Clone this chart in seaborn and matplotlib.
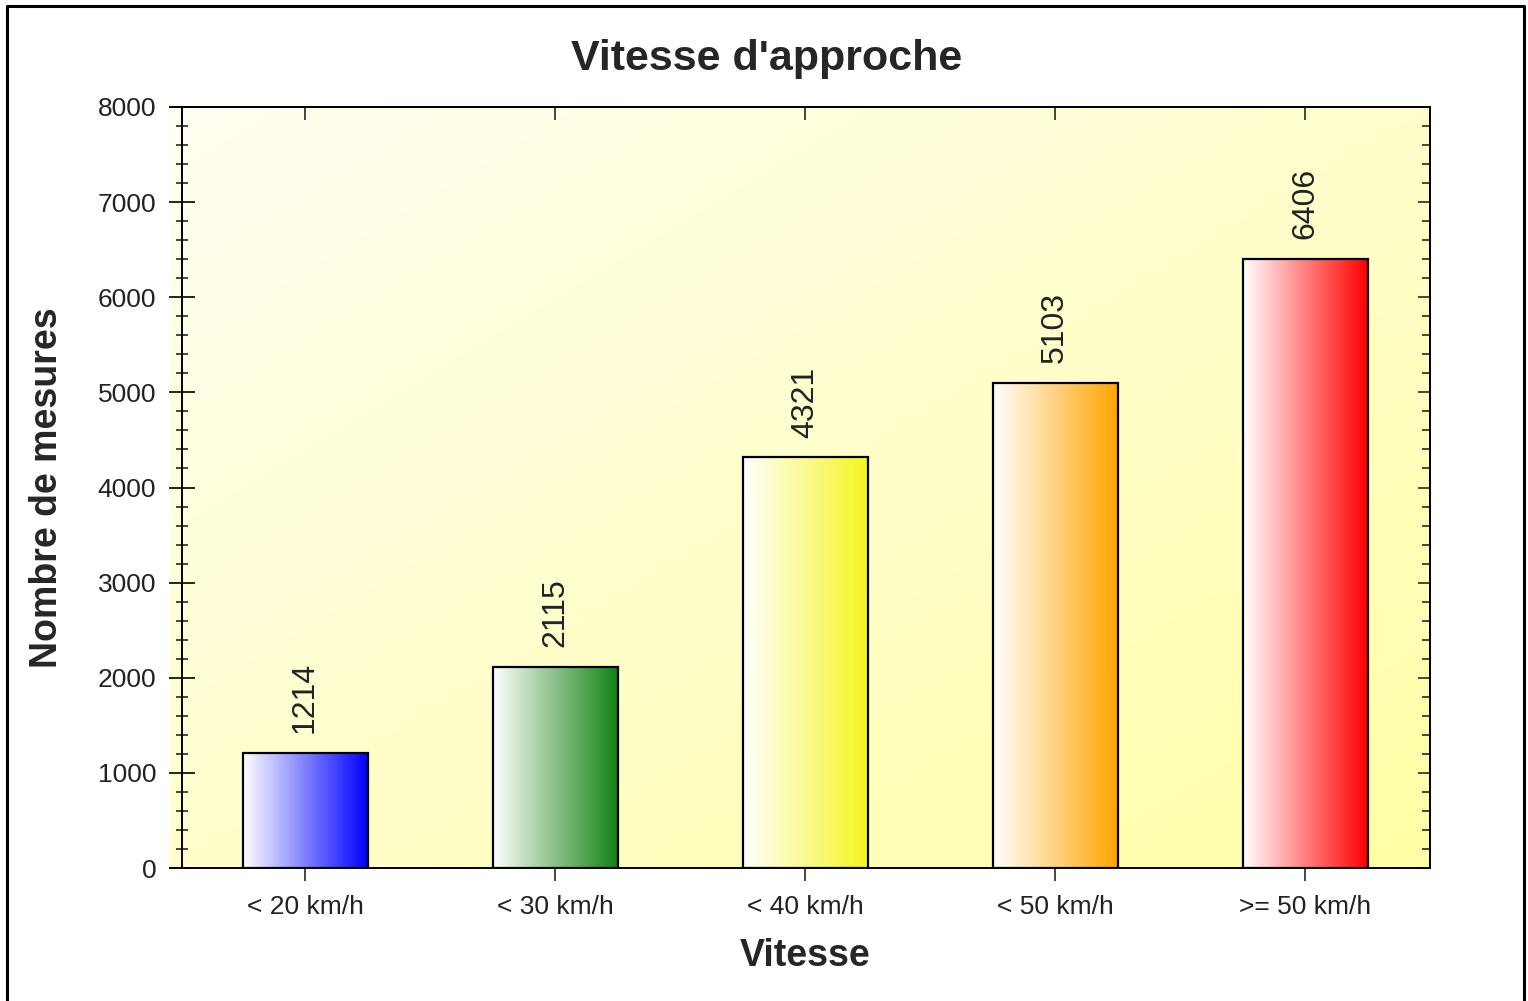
import numpy as np
import matplotlib
matplotlib.use("Agg")
import matplotlib.pyplot as plt
from matplotlib.colors import LinearSegmentedColormap
from matplotlib.ticker import MultipleLocator
from matplotlib.lines import Line2D
import seaborn as sns

# Data
categories = ["< 20 km/h", "< 30 km/h", "< 40 km/h", "< 50 km/h", ">= 50 km/h"]
values = [1214, 2115, 4321, 5103, 6406]
bar_colors = ["#0000FF", "#148214", "#F5F520", "#FFA500", "#FF0000"]

sns.set_style("white")
plt.rcParams['font.family'] = ['Liberation Sans', 'DejaVu Sans']

W, H = 1528, 1001
fig = plt.figure(figsize=(W / 100, H / 100), dpi=100)
ax = fig.add_axes([170 / W, 1 - 868 / H, 1260 / W, 761 / H])

# bars (solid first, gradient drawn over them afterwards)
sns.barplot(x=categories, y=values, width=0.5, color="white", ax=ax, zorder=2)

for patch, col in zip(ax.patches, bar_colors):
    x0, y0 = patch.get_x(), patch.get_y()
    w, h = patch.get_width(), patch.get_height()
    cmap = LinearSegmentedColormap.from_list("g", ["#FFFFFF", col])
    grad = np.linspace(0, 1, 256).reshape(1, -1)
    ax.imshow(grad, cmap=cmap, extent=[x0, x0 + w, y0, y0 + h],
              aspect="auto", zorder=2, interpolation="bilinear")
    patch.set_facecolor("none")
    patch.set_edgecolor("black")
    patch.set_linewidth(1.6)
    patch.set_zorder(3)

# background gradient (white top-left -> yellow bottom-right)
ny, nx = 200, 300
jj, ii = np.meshgrid(np.linspace(0, 1, nx), np.linspace(0, 1, ny))
t = (jj + ii) / 2
c0 = np.array([1.0, 0.998, 0.95])
c1 = np.array([1.0, 1.0, 0.65])
bg = c0 * (1 - t[..., None]) + c1 * t[..., None]
ax.imshow(bg, extent=[0, 1, 0, 1], transform=ax.transAxes, aspect="auto",
          zorder=0, interpolation="bilinear")

# value labels
for i, v in enumerate(values):
    ax.annotate(str(v), xy=(i, v), xytext=(0, 14), textcoords="offset points",
                rotation=90, ha="center", va="bottom", fontsize=23, color="#222222")

ax.set_xlim(-0.54, 4.5)
ax.set_ylim(0, 8000)
ax.yaxis.set_major_locator(MultipleLocator(1000))
ax.yaxis.set_minor_locator(MultipleLocator(200))
ax.set_xticks(range(len(categories)))
ax.set_xticklabels(categories)

for s in ax.spines.values():
    s.set_visible(True)
    s.set_color("black")
    s.set_linewidth(1.4)
ax.spines["left"].set_position(("axes", 12 / 1260))

ax.tick_params(axis="y", which="major", direction="inout", length=19, width=1.2,
               pad=9, labelsize=19, colors="black", left=True, right=False)
ax.tick_params(axis="y", which="minor", direction="inout", length=8, width=1.2,
               left=True, right=False)
ax.tick_params(axis="x", which="major", direction="inout", length=19, width=1.2,
               pad=10, labelsize=19, bottom=True, top=False)
for lab in ax.get_yticklabels() + ax.get_xticklabels():
    lab.set_color("#222222")

# right and top tick marks pointing inwards
sec_y = ax.secondary_yaxis("right")
sec_y.yaxis.set_major_locator(MultipleLocator(1000))
sec_y.yaxis.set_minor_locator(MultipleLocator(200))
sec_y.tick_params(which="major", direction="in", length=9, width=1.2, labelright=False)
sec_y.tick_params(which="minor", direction="in", length=6, width=1.2)
sec_y.spines["right"].set_linewidth(1.4)

sec_x = ax.secondary_xaxis("top")
sec_x.set_xticks(range(len(categories)))
sec_x.tick_params(direction="in", length=9, width=1.2, labeltop=False)
sec_x.spines["top"].set_linewidth(1.4)

ax.set_ylabel("Nombre de mesures", fontsize=27, fontweight="bold")
ax.yaxis.set_label_coords(-0.083, 0.5)
ax.set_xlabel("Vitesse", fontsize=27, fontweight="bold")
ax.xaxis.set_label_coords(0.504, -0.092)

fig.text(767 / W, 1 - 59 / H, "Vitesse d'approche", fontsize=31,
         fontweight="bold", ha="center", va="center")

# outer frame (cropped at the bottom)
fx = [7 / W, 7 / W, 1524 / W, 1524 / W]
fy = [0, 1 - 6 / H, 1 - 6 / H, 0]
fig.add_artist(Line2D(fx, fy, color="black", linewidth=2.2, transform=fig.transFigure))

fig.savefig("out.png", dpi=100)
